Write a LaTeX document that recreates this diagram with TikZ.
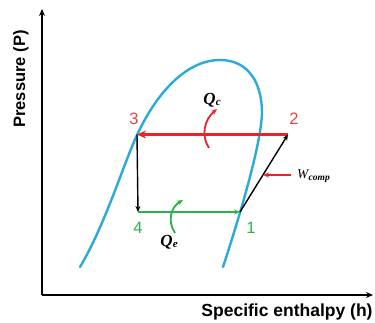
\documentclass[tikz,border=0pt]{standalone}
\usepackage{fontspec}
\setmainfont{Liberation Sans}
\newfontfamily\serifbi{Liberation Serif}[BoldItalicFont={* Bold Italic}]
\usetikzlibrary{arrows.meta}
\definecolor{curveblue}{HTML}{2AAAD8}
\definecolor{cycred}{HTML}{E3262B}
\definecolor{numred}{HTML}{E0433F}
\definecolor{cycgreen}{HTML}{2DB04C}
\begin{document}
\begin{tikzpicture}[x=1pt,y=-1pt,
  axis/.style={line width=1.4pt,-{Stealth[length=7pt,width=6pt]}},
  num/.style={inner sep=0pt,font=\fontsize{16.5}{16.5}\selectfont},
  axlabel/.style={inner sep=0pt,font=\bfseries\fontsize{17.5}{17.5}\selectfont},
  qlabel/.style={inner sep=0pt},
  tipS/.style={-{Stealth[length=6pt,width=5pt]}}
]
\useasboundingbox (0,0) rectangle (375,322);
% axes
\coordinate (O) at (42,295);
\coordinate (Ytop) at (42,9);
\coordinate (Xend) at (373,295);
\draw[axis] (O) -- (Ytop);
\draw[axis] (O) -- (Xend);
\node[axlabel,anchor=base] (xl) at (287,316) {Specific enthalpy (h)};
\node[axlabel,anchor=base,rotate=90,font=\bfseries\fontsize{16.5}{16.5}\selectfont] (yl) at (25,79) {Pressure (P)};
% saturation dome
\draw[curveblue,line width=2.4pt,line cap=round]
  (80,267) .. controls (105,225) and (122,168) .. (137,135)
  .. controls (158,90) and (188,60) .. (220,60)
  .. controls (250,60) and (262,85) .. (262,113)
  .. controls (261,145) and (240,215) .. (223,267);
% cycle points
\coordinate (p1) at (240,212);
\coordinate (p2) at (288,134.5);
\coordinate (p3) at (137,134.5);
\coordinate (p4) at (138,212);
\draw[cycred,line width=2.4pt,-{Stealth[length=9pt,width=8pt]}] (p2) -- (p3);
\draw[black,line width=1.4pt,tipS] (p3) -- (p4);
\draw[cycgreen,line width=1.6pt,tipS] (p4) -- (p1);
\draw[black,line width=1.4pt,tipS] (p1) -- (p2);
% labels of points
\node[num,text=numred] (l3) at (134,119) {3};
\node[num,text=numred] (l2) at (294,119) {2};
\node[num,text=cycgreen] (l4) at (138,228) {4};
\node[num,text=cycgreen] (l1) at (251,228) {1};
% heat arrows
\coordinate (qcs) at (209,148);
\coordinate (qct) at (217,109);
\draw[cycred,line width=1.8pt,tipS] (qcs) .. controls (201,136) and (204,120) .. (qct);
\node[qlabel] (qc) at (212,100) {\serifbi\bfseries\itshape\fontsize{17}{17}\selectfont Q\kern0.3pt\raisebox{-1.5pt}{\fontsize{11}{11}\selectfont c}};
\coordinate (qes) at (175,233);
\coordinate (qet) at (183,200);
\draw[cycgreen,line width=1.8pt,tipS] (qes) .. controls (167,221) and (171,207) .. (qet);
\node[qlabel] (qe) at (169,242) {\serifbi\bfseries\itshape\fontsize{17}{17}\selectfont Q\kern0.3pt\raisebox{-1.5pt}{\fontsize{11}{11}\selectfont e}};
% compressor work
\node[qlabel,anchor=west] (wc) at (297,176) {\serifbi\itshape\fontsize{13.5}{13.5}\selectfont W\kern0.2pt\raisebox{-1.5pt}{\bfseries\fontsize{9.5}{9.5}\selectfont comp}};
\coordinate (wt) at (263,175);
\draw[cycred,line width=1.6pt,tipS] (wc.west) ++(-6,-1) coordinate (ws) -- (wt);
\end{tikzpicture}
\end{document}
